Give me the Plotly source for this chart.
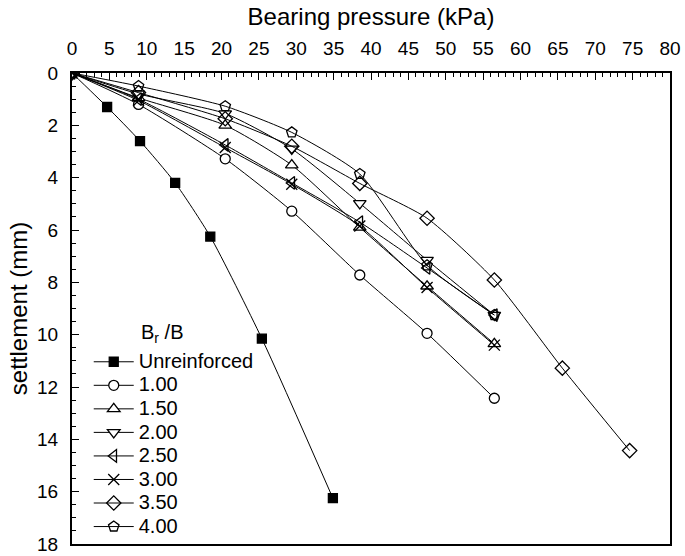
import plotly.graph_objects as go

# Bearing pressure (kPa)
x_unreinforced = [0, 4.7, 9.1, 13.8, 18.5, 25.4, 34.9]
x_reinforced = [0, 8.9, 20.5, 29.4, 38.5, 47.5, 56.5]
x_350 = [0, 8.9, 20.5, 29.4, 38.5, 47.5, 56.5, 65.6, 74.6]

# Settlement (mm)
y_unreinforced = [0, 1.3, 2.6, 4.2, 6.25, 10.15, 16.25]
y_100 = [0, 1.2, 3.28, 5.28, 7.72, 9.95, 12.43]
y_150 = [0, 0.95, 2.0, 3.52, 5.9, 8.15, 10.35]
y_200 = [0, 0.8, 1.55, 2.9, 4.98, 7.15, 9.25]
y_250 = [0, 1.0, 2.75, 4.2, 5.7, 7.45, 9.25]
y_300 = [0, 1.05, 2.85, 4.25, 5.85, 8.2, 10.4]
y_350 = [0, 0.75, 1.75, 2.8, 4.22, 5.55, 7.91, 11.28, 14.43]
y_400 = [0, 0.5, 1.27, 2.27, 3.86, 7.35, 9.25]

names = ["Unreinforced", "1.00", "1.50", "2.00", "2.50", "3.00", "3.50", "4.00"]
legend_title = "B<sub>r</sub> /B"

series = [
    (x_unreinforced, y_unreinforced, "square", "black", 9),
    (x_reinforced, y_100, "circle", "white", 10),
    (x_reinforced, y_150, "triangle-up", "white", 11),
    (x_reinforced, y_200, "triangle-down", "white", 11),
    (x_reinforced, y_250, "triangle-left-open", "black", 11),
    (x_reinforced, y_300, "x-thin-open", "black", 11),
    (x_350, y_350, "diamond-open", "black", 11),
    (x_reinforced, y_400, "pentagon-open", "black", 11),
]

FONT = "Arial, Liberation Sans, sans-serif"

fig = go.Figure()
for name, (xs, ys, sym, fill, size) in zip(names, series):
    fig.add_trace(go.Scatter(
        x=xs, y=ys, name='<span style="font-size:20px">' + name + '</span>',
        mode="lines+markers",
        line=dict(color="black", width=1, shape="spline", smoothing=0.6),
        marker=dict(symbol=sym, size=size, color=fill,
                    line=dict(color="black", width=1.3)),
    ))

# Legend title drawn as a text annotation above the legend entries
fig.add_annotation(
    text=legend_title, xref="paper", yref="paper",
    x=0.1505, y=0.446, xanchor="center", yanchor="middle",
    showarrow=False, font=dict(size=20, family=FONT, color="black"),
)

fig.update_layout(
    width=685, height=556,
    margin=dict(l=72, r=15, t=73, b=12),
    paper_bgcolor="white", plot_bgcolor="white",
    font=dict(family=FONT, size=19, color="black"),
    showlegend=True,
    legend=dict(
        x=0.028, y=0.0, xanchor="left", yanchor="bottom",
        bgcolor="rgba(0,0,0,0)",
        font=dict(size=15.8),
        tracegroupgap=0, itemwidth=40,
    ),
    xaxis=dict(
        title=dict(text="Bearing pressure (kPa)", font=dict(size=24), standoff=6),
        side="top", range=[0, 80], dtick=5, tick0=0, automargin=False,
        ticks="inside", ticklen=7, tickwidth=1.2, tickcolor="black",
        ticklabelstandoff=8,
        minor=dict(dtick=1, ticks="inside", ticklen=4, tickwidth=1, tickcolor="black"),
        showline=True, linecolor="black", linewidth=2, mirror=True,
        showgrid=False, zeroline=False, tickfont=dict(size=19),
    ),
    yaxis=dict(
        title=dict(text="settlement (mm)", font=dict(size=24), standoff=3),
        range=[18, 0], dtick=2, tick0=0, automargin=False,
        ticks="inside", ticklen=7, tickwidth=1.2, tickcolor="black",
        ticklabelstandoff=8,
        minor=dict(dtick=0.5, ticks="inside", ticklen=4, tickwidth=1, tickcolor="black"),
        showline=True, linecolor="black", linewidth=2, mirror=True,
        showgrid=False, zeroline=False, tickfont=dict(size=19),
    ),
)

fig.write_html("out.html", config={"displayModeBar": False},
               post_script="document.body.style.margin='0px';")
